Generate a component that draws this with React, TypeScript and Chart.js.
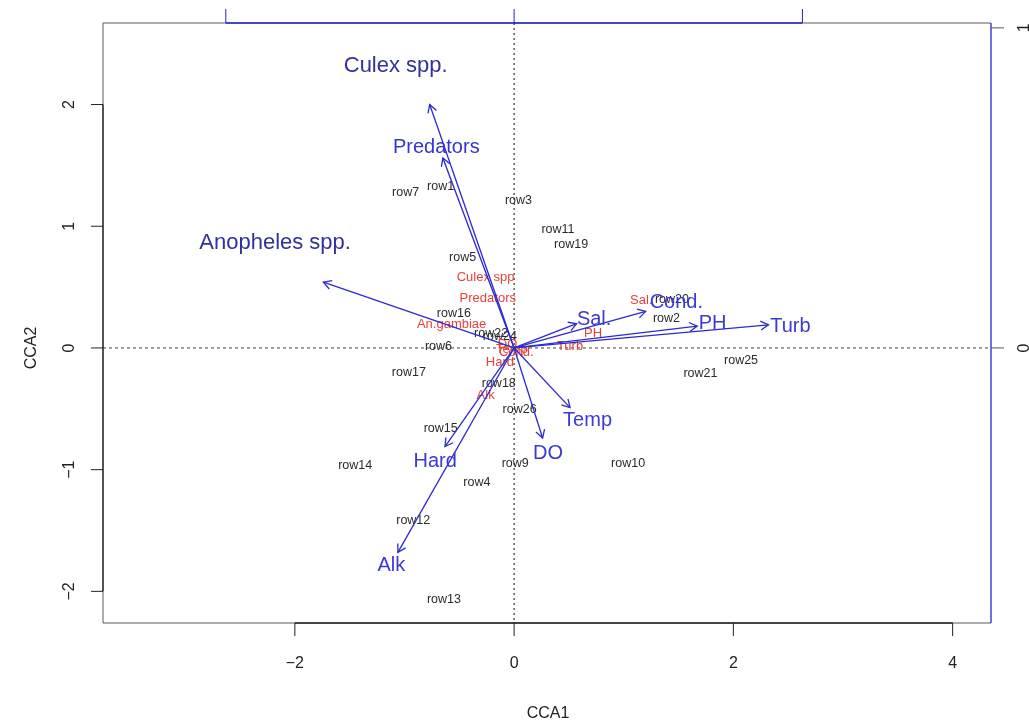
import React, { useEffect, useRef } from "react";
import { Chart, registerables } from "chart.js";

Chart.register(...registerables);

// Site scores (CCA1, CCA2)
const siteNames = [
  "row1", "row2", "row3", "row4", "row5", "row6", "row7", "row9", "row10",
  "row11", "row12", "row13", "row14", "row15", "row16", "row17", "row18",
  "row19", "row20", "row21", "row22", "row24", "row25", "row26",
];
const siteX = [
  -0.67, 1.39, 0.04, -0.34, -0.47, -0.69, -0.99, 0.01, 1.04,
  0.4, -0.92, -0.64, -1.45, -0.67, -0.55, -0.96, -0.14,
  0.52, 1.44, 1.7, -0.21, -0.13, 2.07, 0.05,
];
const siteY = [
  1.33, 0.24, 1.21, -1.11, 0.74, 0.01, 1.28, -0.95, -0.95,
  0.97, -1.42, -2.07, -0.97, -0.66, 0.28, -0.2, -0.29,
  0.85, 0.4, -0.21, 0.12, 0.09, -0.1, -0.51,
];

// Small red score labels
const scoreNames = [
  "Culex spp", "Predators", "An.gambiae", "Sal.", "PH", "Turb",
  "Hard", "Alk", "Temp", "DO", "Cond.",
];
const scoreX = [-0.26, -0.24, -0.57, 1.16, 0.72, 0.51, -0.13, -0.26, -0.02, -0.06, 0.02];
const scoreY = [0.58, 0.41, 0.19, 0.39, 0.12, 0.01, -0.12, -0.39, -0.01, 0.03, -0.04];

// Species arrows
const speciesNames = ["Culex spp.", "Predators", "Anopheles spp."];
const speciesTipX = [-0.77, -0.65, -1.74];
const speciesTipY = [2.0, 1.56, 0.54];
const speciesLabelX = [-1.08, -0.71, -2.18];
const speciesLabelY = [2.32, 1.65, 0.86];

// Environmental arrows
const envNames = ["Sal.", "Cond.", "PH", "Turb", "Temp", "DO", "Hard", "Alk"];
const envTipX = [0.57, 1.2, 1.67, 2.32, 0.51, 0.26, -0.63, -1.06];
const envTipY = [0.2, 0.3, 0.18, 0.19, -0.49, -0.74, -0.81, -1.68];
const envLabelX = [0.73, 1.48, 1.81, 2.52, 0.67, 0.31, -0.72, -1.12];
const envLabelY = [0.23, 0.37, 0.2, 0.18, -0.6, -0.87, -0.93, -1.79];

// Axis ticks
const xTicks = [-2, 0, 2, 4];
const yTicks = [-2, -1, 0, 1, 2];
const topTicks = [-1, 0, 1];
const rightTicks = [0, 1];

const X_RANGE = [-3.75, 4.35];
const Y_RANGE = [-2.26, 2.67];
const ARROW_SCALE = 2.63;

const FONT = '"Liberation Sans", Arial, sans-serif';
const ARROW_COLOR = "#2a2ad2";
const BOX_COLOR = "#5a5a5a";
const AXIS_BLUE = "#2424d8";

function drawText(ctx: CanvasRenderingContext2D, text: string, x: number, y: number, size: number, color: string, rot = 0) {
  ctx.save();
  ctx.font = `${size}px ${FONT}`;
  ctx.fillStyle = color;
  ctx.textAlign = "center";
  ctx.textBaseline = "middle";
  ctx.translate(x, y);
  if (rot) ctx.rotate(rot);
  ctx.fillText(text, 0, 0);
  ctx.restore();
}

function line(ctx: CanvasRenderingContext2D, x1: number, y1: number, x2: number, y2: number, color: string, width = 1, dash: number[] = []) {
  ctx.save();
  ctx.strokeStyle = color;
  ctx.lineWidth = width;
  ctx.setLineDash(dash);
  ctx.beginPath();
  ctx.moveTo(x1, y1);
  ctx.lineTo(x2, y2);
  ctx.stroke();
  ctx.restore();
}

const biplotPlugin = {
  id: "biplot",
  beforeDatasetsDraw(chart: any) {
    const ctx: CanvasRenderingContext2D = chart.ctx;
    const { left, right, top, bottom } = chart.chartArea;
    const xs = chart.scales.x;
    const ys = chart.scales.y;
    const x0 = xs.getPixelForValue(0);
    const y0 = ys.getPixelForValue(0);
    // reference lines through the origin
    line(ctx, left, y0, right, y0, "#444", 1, [3, 3]);
    line(ctx, x0, top, x0, bottom, "#333", 1.2, [2, 3]);

    // site labels
    siteNames.forEach((n, i) => {
      drawText(ctx, n, xs.getPixelForValue(siteX[i]), ys.getPixelForValue(siteY[i]), 12.5, "#2b2b2b");
    });
    // red score labels
    scoreNames.forEach((n, i) => {
      drawText(ctx, n, xs.getPixelForValue(scoreX[i]), ys.getPixelForValue(scoreY[i]), 13, "#e8413a");
    });
  },
  afterDatasetsDraw(chart: any) {
    const ctx: CanvasRenderingContext2D = chart.ctx;
    const { left, right, top, bottom } = chart.chartArea;
    const xs = chart.scales.x;
    const ys = chart.scales.y;
    const x2 = chart.scales.x2;
    const y2 = chart.scales.y2;
    const x0 = xs.getPixelForValue(0);
    const y0 = ys.getPixelForValue(0);

    // arrowheads
    const head = (tx: number, ty: number) => {
      const px = xs.getPixelForValue(tx);
      const py = ys.getPixelForValue(ty);
      const a = Math.atan2(py - y0, px - x0);
      const len = 9;
      ctx.save();
      ctx.strokeStyle = ARROW_COLOR;
      ctx.lineWidth = 1.3;
      ctx.beginPath();
      ctx.moveTo(px - len * Math.cos(a - Math.PI / 6), py - len * Math.sin(a - Math.PI / 6));
      ctx.lineTo(px, py);
      ctx.lineTo(px - len * Math.cos(a + Math.PI / 6), py - len * Math.sin(a + Math.PI / 6));
      ctx.stroke();
      ctx.restore();
    };
    speciesTipX.forEach((v, i) => head(v, speciesTipY[i]));
    envTipX.forEach((v, i) => head(v, envTipY[i]));

    // arrow labels
    speciesNames.forEach((n, i) => {
      const size = n === "Predators" ? 20 : 22;
      const color = n === "Predators" ? "#3434d0" : "#30309e";
      drawText(ctx, n, xs.getPixelForValue(speciesLabelX[i]), ys.getPixelForValue(speciesLabelY[i]), size, color);
    });
    envNames.forEach((n, i) => {
      drawText(ctx, n, xs.getPixelForValue(envLabelX[i]), ys.getPixelForValue(envLabelY[i]), 20, "#3a3ad6");
    });

    // plot box
    line(ctx, left, top, left, bottom, BOX_COLOR, 1);
    line(ctx, left, bottom, right, bottom, BOX_COLOR, 1);
    line(ctx, left, top, right, top, BOX_COLOR, 1);
    line(ctx, right, top, right, bottom, AXIS_BLUE, 1.3);

    // bottom axis
    const bx1 = xs.getPixelForValue(xTicks[0]);
    const bx2 = xs.getPixelForValue(xTicks[xTicks.length - 1]);
    line(ctx, bx1, bottom, bx2, bottom, "#222", 1.3);
    xTicks.forEach((t) => {
      const px = xs.getPixelForValue(t);
      line(ctx, px, bottom, px, bottom + 13, "#222", 1);
      drawText(ctx, t < 0 ? "\u2212" + Math.abs(t) : String(t), px, bottom + 41, 16, "#222");
    });
    drawText(ctx, "CCA1", (left + right) / 2 + 1, bottom + 91, 16, "#222");

    // left axis
    const ly1 = ys.getPixelForValue(yTicks[0]);
    const ly2 = ys.getPixelForValue(yTicks[yTicks.length - 1]);
    line(ctx, left, ly1, left, ly2, "#222", 1.3);
    yTicks.forEach((t) => {
      const py = ys.getPixelForValue(t);
      line(ctx, left, py, left - 12, py, "#222", 1);
      drawText(ctx, t < 0 ? "\u2212" + Math.abs(t) : String(t), left - 33, py, 16, "#222", -Math.PI / 2);
    });
    drawText(ctx, "CCA2", left - 71, y0, 16, "#222", -Math.PI / 2);

    // top axis (arrow scale)
    const tx1 = x2.getPixelForValue(topTicks[0]);
    const tx2 = x2.getPixelForValue(topTicks[topTicks.length - 1]);
    line(ctx, tx1, top, tx2, top, AXIS_BLUE, 1.3);
    topTicks.forEach((t) => {
      const px = x2.getPixelForValue(t);
      line(ctx, px, top, px, top - 14, AXIS_BLUE, 1);
      drawText(ctx, String(t), px, top - 41, 16, AXIS_BLUE);
    });

    // right axis (arrow scale)
    rightTicks.forEach((t) => {
      const py = y2.getPixelForValue(t);
      line(ctx, right, py, right + 13, py, "#555", 1);
      drawText(ctx, String(t), right + 34, py, 16, "#222", -Math.PI / 2);
    });
  },
};

export default function App() {
  const ref = useRef<HTMLCanvasElement | null>(null);

  useEffect(() => {
    document.body.style.margin = "0";
    const canvas = ref.current;
    if (!canvas) return;

    const arrowSets = [
      ...speciesNames.map((n, i) => ({ n, x: speciesTipX[i], y: speciesTipY[i] })),
      ...envNames.map((n, i) => ({ n, x: envTipX[i], y: envTipY[i] })),
    ].map((a) => ({
      type: "line" as const,
      label: a.n,
      data: [
        { x: 0, y: 0 },
        { x: a.x, y: a.y },
      ],
      borderColor: ARROW_COLOR,
      borderWidth: 1.3,
      pointRadius: 0,
      fill: false,
    }));

    const chart = new Chart(canvas, {
      type: "scatter",
      data: {
        datasets: [
          {
            label: "sites",
            data: siteX.map((x, i) => ({ x, y: siteY[i] })),
            pointRadius: 0,
          },
          ...arrowSets,
        ] as any,
      },
      options: {
        responsive: false,
        animation: false,
        devicePixelRatio: 1,
        layout: { padding: { left: 103, right: 38, top: 23, bottom: 105 } },
        plugins: { legend: { display: false }, tooltip: { enabled: false } },
        scales: {
          x: { type: "linear", min: X_RANGE[0], max: X_RANGE[1], display: false },
          y: { type: "linear", min: Y_RANGE[0], max: Y_RANGE[1], display: false },
          x2: { type: "linear", axis: "x", min: X_RANGE[0] / ARROW_SCALE, max: X_RANGE[1] / ARROW_SCALE, display: false },
          y2: { type: "linear", axis: "y", min: Y_RANGE[0] / ARROW_SCALE, max: Y_RANGE[1] / ARROW_SCALE, display: false },
        },
      },
      plugins: [biplotPlugin],
    });

    return () => chart.destroy();
  }, []);

  return (
    <div style={{ width: 1029, height: 728, background: "#fff" }}>
      <canvas ref={ref} width={1029} height={728} />
    </div>
  );
}
